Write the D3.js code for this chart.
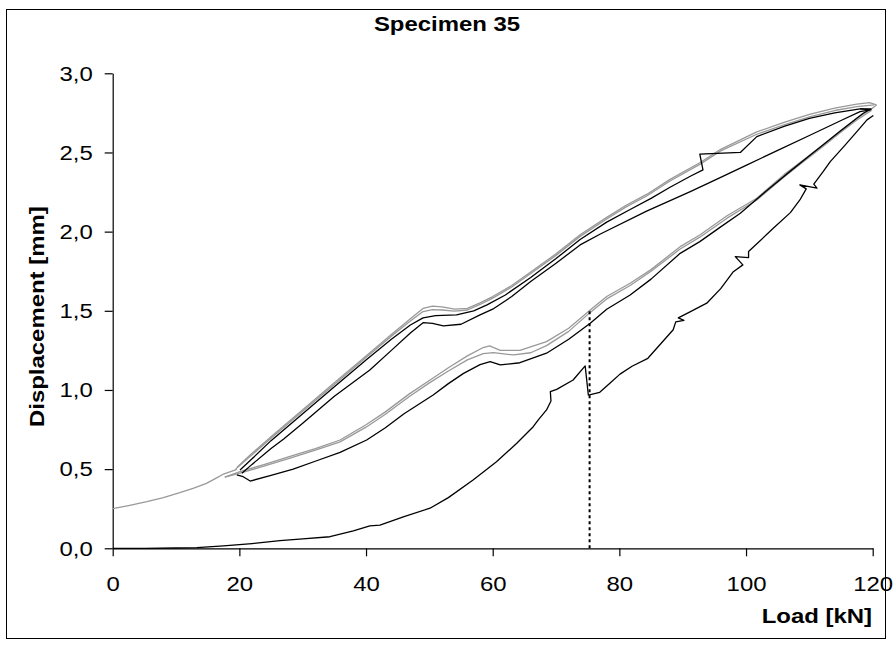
<!DOCTYPE html>
<html>
<head>
<meta charset="utf-8">
<script src="https://cdn.jsdelivr.net/npm/d3@7/dist/d3.min.js"></script>
<style>
  html, body { margin: 0; padding: 0; background: #fff; }
  svg { display: block; }
  text { font-family: "Liberation Sans", Arial, sans-serif; fill: #000; }
</style>
</head>
<body>
<script>
// ---------- data: [Load kN, Displacement mm] ----------
const xTicks = [0, 20, 40, 60, 80, 100, 120];
const yTicks = [0, 0.5, 1.0, 1.5, 2.0, 2.5, 3.0];

const grayInitial = [[0,0.25],[2.5,0.27],[5.4,0.295],[8,0.32],[10.6,0.351],[12.8,0.38],[14.8,0.41],[16.2,0.44],[17.5,0.469],[19.6,0.499]];

const grayUpper1 = [[19.6,0.51],[22,0.6],[25,0.705],[30,0.875],[35,1.045],[40,1.215],[44,1.35],[47,1.45],[49,1.515],[50.5,1.53],[52,1.525],[54,1.51],[56,1.515],[58,1.55],[60,1.59],[63,1.66],[66,1.745],[70,1.86],[73.8,1.98],[78,2.09],[81,2.165],[84.3,2.235],[88,2.33],[92.7,2.435],[96,2.52],[101.7,2.63],[106,2.69],[110,2.74],[114,2.78],[117.5,2.805],[119.5,2.815],[120.6,2.80]];

const grayUpper2 = [[19.4,0.5],[22,0.59],[25,0.695],[30,0.865],[35,1.035],[40,1.205],[44,1.34],[47,1.435],[49,1.495],[50.5,1.507],[52,1.505],[54,1.498],[56,1.505],[58,1.54],[60,1.58],[63,1.65],[66,1.735],[70,1.85],[73.8,1.97],[78,2.08],[81,2.155],[84.3,2.225],[88,2.32],[92.7,2.425],[96,2.51],[101.7,2.615],[106,2.675],[110,2.725],[114,2.765],[117.5,2.79],[120.2,2.80]];

const blackUpper1 = [[20.1,0.495],[22,0.565],[25,0.68],[30,0.85],[35,1.02],[40,1.19],[44,1.32],[47,1.41],[49,1.455],[51,1.47],[54.3,1.474],[57,1.5],[59.1,1.537],[62,1.6],[66,1.71],[70,1.83],[73.8,1.95],[78,2.06],[81.7,2.14],[85,2.21],[88,2.28],[91.2,2.35],[93.2,2.39],[92.7,2.49],[99.1,2.50],[101.7,2.6],[106,2.665],[110,2.715],[114,2.75],[118,2.775],[119.8,2.775]];

const blackUpper2 = [[20.4,0.474],[22,0.53],[25,0.63],[27,0.69],[30,0.79],[35,0.96],[40.6,1.126],[44,1.25],[47,1.36],[49,1.425],[50.5,1.42],[52.2,1.405],[55,1.415],[58,1.474],[60,1.51],[63,1.59],[66,1.685],[70,1.80],[73.8,1.916],[77,1.985],[84.3,2.13],[91.2,2.253],[96,2.343],[100,2.419],[105,2.513],[110,2.607],[115,2.702],[118,2.758],[119.8,2.77]];

const grayLower1 = [[17.7,0.449],[20.1,0.484],[24,0.53],[28,0.58],[32,0.63],[35.9,0.684],[40,0.78],[43,0.86],[46.9,0.977],[50,1.06],[53,1.14],[56,1.215],[58.5,1.268],[59.5,1.278],[61.2,1.25],[64.3,1.25],[68.5,1.305],[72,1.39],[75.4,1.505],[78,1.59],[81.7,1.674],[85,1.76],[89.6,1.905],[92.7,1.979],[97,2.1],[101.7,2.211],[106,2.36],[109,2.45],[112.2,2.548],[115,2.64],[117.5,2.716],[119.6,2.769],[120.6,2.80]];

const grayLower2 = [[17.7,0.449],[20.1,0.475],[24,0.52],[28,0.57],[32,0.62],[35.9,0.672],[40,0.765],[43,0.845],[46.9,0.96],[50,1.045],[53,1.12],[56,1.19],[58.5,1.23],[60.1,1.236],[63.3,1.221],[66,1.235],[68.5,1.28],[72,1.37],[75.4,1.49],[78,1.575],[81.7,1.66],[85,1.75],[89.6,1.89],[92.7,1.965],[97,2.085],[101.7,2.2],[106,2.345],[109,2.44],[112.2,2.54],[115,2.63],[117.5,2.705],[119.8,2.765]];

const blackLower = [[19.6,0.463],[20.6,0.452],[21.7,0.425],[25,0.46],[28.5,0.5],[32.2,0.553],[35.9,0.606],[40.1,0.684],[43,0.76],[46,0.85],[50.6,0.968],[53,1.04],[55.4,1.105],[58,1.16],[59.6,1.179],[61.2,1.158],[64.3,1.172],[68.5,1.232],[72,1.32],[75.4,1.421],[78,1.51],[81.7,1.6],[85,1.7],[89.6,1.863],[92.7,1.937],[96,2.03],[99.1,2.116],[103,2.25],[106.9,2.379],[110,2.48],[114.8,2.632],[118.5,2.748],[119.5,2.77],[118,2.775]];

const blackInitial = [[0,0],[5,0],[10,0.002],[13.3,0.004],[17.5,0.015],[22,0.03],[26.4,0.048],[30,0.06],[34.3,0.073],[38,0.11],[40.6,0.141],[42.2,0.147],[46,0.2],[50.1,0.253],[53,0.32],[56.9,0.431],[60.6,0.547],[63.8,0.663],[66.4,0.768],[67.2,0.811],[68.5,0.874],[69.2,0.93],[69.1,0.99],[70.1,1.004],[72.7,1.063],[74.6,1.152],[75.1,0.968],[76.9,0.985],[78.5,1.042],[80.1,1.1],[82,1.15],[84.5,1.2],[86.5,1.29],[88.5,1.38],[88.9,1.43],[90.2,1.44],[89.3,1.455],[91,1.49],[93.8,1.548],[96,1.64],[98,1.747],[99.5,1.79],[98.3,1.842],[100.4,1.836],[100.4,1.874],[104.3,2.021],[107,2.12],[108.5,2.2],[109.5,2.27],[108.5,2.295],[111.2,2.275],[110.7,2.3],[112.2,2.38],[113.3,2.442],[115.5,2.54],[117.5,2.632],[119.1,2.706],[120.1,2.733]];

const markerLoad = 75.3;
const markerDisp = [0, 1.505];

// ---------- layout ----------
const W = 893, H = 645;
const SX = 1.14; // horizontal stretch of the reference lettering
const svg = d3.select("body").append("svg").attr("width", W).attr("height", H);

svg.append("rect").attr("x", 6.5).attr("y", 9.5).attr("width", 879).attr("height", 629)
  .attr("fill", "none").attr("stroke", "#000").attr("stroke-width", 1);

const x = d3.scaleLinear().domain([0, 120]).range([112.7, 872.7]);
const y = d3.scaleLinear().domain([0, 3]).range([548.3, 73.3]);

const fmt = d => d3.format(".1f")(d).replace(".", ",");

const xMinor = d3.range(0, 121, 10);
const yMinor = d3.range(0, 3.01, 0.25);

const gx = svg.append("g").attr("transform", `translate(0,${y(0)})`);
gx.call(d3.axisBottom(x).tickValues(xMinor).tickSize(8).tickSizeOuter(0).tickFormat(""));
gx.call(d3.axisBottom(x).tickValues(xTicks).tickSize(8).tickSizeOuter(0).tickPadding(20).tickFormat(d3.format("d")));
gx.selectAll(".tick text").attr("transform", `scale(${SX},1)`);

const gy = svg.append("g").attr("transform", `translate(${x(0)},0)`);
gy.call(d3.axisLeft(y).tickValues(yMinor).tickSize(8).tickSizeOuter(0).tickFormat(""));
gy.call(d3.axisLeft(y).tickValues(yTicks).tickSize(8).tickSizeOuter(0).tickPadding(12).tickFormat(fmt));
gy.selectAll(".tick text").attr("x", -20 / SX).attr("transform", `scale(${SX},1)`);

svg.selectAll(".tick text").attr("font-family", "Liberation Sans, Arial, sans-serif").attr("font-size", 21).attr("fill", "#000");
svg.selectAll(".domain, .tick line").attr("stroke", "#000").attr("stroke-width", 1.2);

// titles
svg.append("text").attr("transform", `translate(447,31) scale(${SX},1)`).attr("text-anchor", "middle")
  .attr("font-size", 21).attr("font-weight", "bold").text("Specimen 35");
svg.append("text").attr("transform", `translate(872,623) scale(${SX},1)`).attr("text-anchor", "end")
  .attr("font-size", 21).attr("font-weight", "bold").text("Load [kN]");
svg.append("text").attr("transform", `translate(43.5,427) rotate(-90) scale(${SX},1)`).attr("text-anchor", "start")
  .attr("font-size", 21).attr("font-weight", "bold").text("Displacement [mm]");

// curves
const line = d3.line().x(d => x(d[0])).y(d => y(d[1]));
const plot = svg.append("g").attr("fill", "none").attr("stroke-linejoin", "round");
const grays = [grayInitial, grayLower2, grayLower1, grayUpper2, grayUpper1];
const blacks = [blackInitial, blackLower, blackUpper2, blackUpper1];
plot.selectAll(".g").data(grays).join("path").attr("d", line)
  .attr("stroke", "#999").attr("stroke-width", 1.3);
plot.selectAll(".b").data(blacks).join("path").attr("d", line)
  .attr("stroke", "#000").attr("stroke-width", 1.3);

svg.append("line").attr("x1", x(markerLoad)).attr("x2", x(markerLoad))
  .attr("y1", y(markerDisp[0])).attr("y2", y(markerDisp[1]))
  .attr("stroke", "#000").attr("stroke-width", 2).attr("stroke-dasharray", "3,3");
</script>
</body>
</html>
